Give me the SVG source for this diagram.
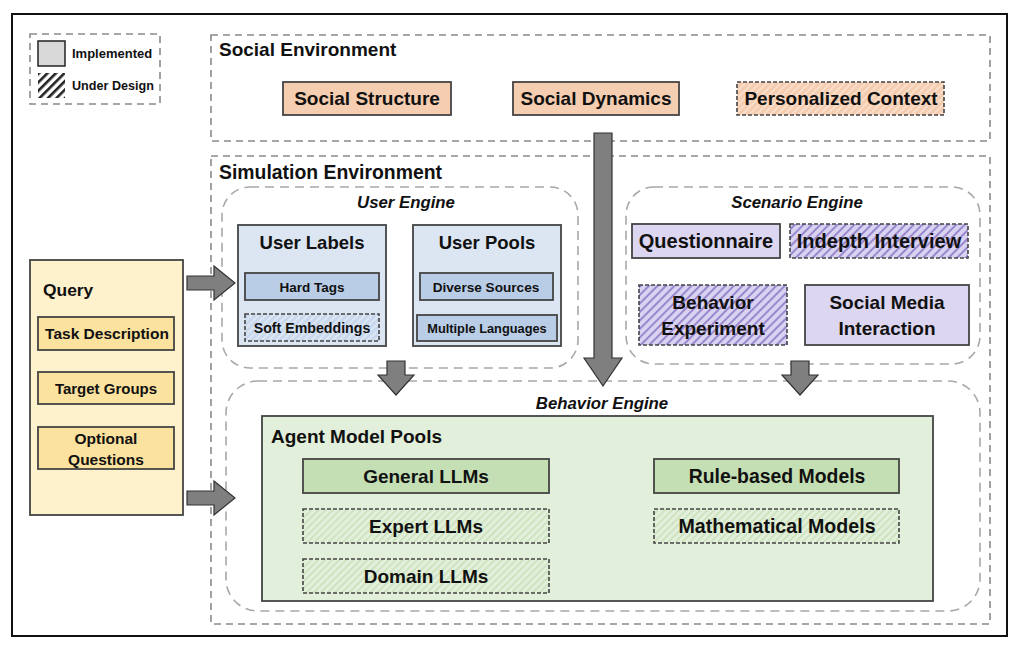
<svg xmlns="http://www.w3.org/2000/svg" width="1024" height="653" viewBox="0 0 1024 653">
<defs>
<pattern id="hBlack" patternUnits="userSpaceOnUse" width="6" height="6" patternTransform="rotate(45)"><rect width="6" height="6" fill="#fff"/><rect width="2.6" height="6" fill="#222"/></pattern>
<pattern id="hPeach" patternUnits="userSpaceOnUse" width="5" height="5" patternTransform="rotate(45)"><rect width="5" height="5" fill="#f5cdb0"/><rect width="1.5" height="5" fill="#fbe3d2"/></pattern>
<pattern id="hBlue" patternUnits="userSpaceOnUse" width="5" height="5" patternTransform="rotate(45)"><rect width="5" height="5" fill="#c9d8ec"/><rect width="1.5" height="5" fill="#e2ebf6"/></pattern>
<pattern id="hPurple" patternUnits="userSpaceOnUse" width="6" height="6" patternTransform="rotate(45)"><rect width="6" height="6" fill="#d9d2f0"/><rect width="2" height="6" fill="#9a88cf"/></pattern>
<pattern id="hGreen" patternUnits="userSpaceOnUse" width="5" height="5" patternTransform="rotate(45)"><rect width="5" height="5" fill="#e2efda"/><rect width="1.5" height="5" fill="#c8e0b8"/></pattern>
</defs>
<style>
text{font-family:"Liberation Sans",Arial,sans-serif;font-weight:bold;fill:#111;}
.c{text-anchor:middle;}
.dash{fill:none;stroke:#8a8a8a;stroke-width:1.6;stroke-dasharray:7,5;}
.rdash{fill:none;stroke:#a8a8a8;stroke-width:1.6;stroke-dasharray:9,6;}
.box{stroke:#444;stroke-width:1.8;}
.dbox{stroke:#444;stroke-width:1.6;stroke-dasharray:4,2;}
.arrow{fill:#7f7f7f;stroke:#333;stroke-width:1.2;}
.t17{font-size:19px;}
.t18{font-size:19px;}
.it{font-style:italic;font-size:16.8px;}
.q{font-size:15.5px;}
</style>
<rect x="0" y="0" width="1024" height="653" fill="#fff"/>
<rect x="12" y="14" width="995" height="622" fill="none" stroke="#111" stroke-width="2"/>

<g id="legend">
<rect x="30" y="34" width="130" height="70" class="dash"/>
<rect x="38" y="41" width="27" height="25" fill="#d9d9d9" stroke="#222" stroke-width="1.5"/>
<text x="72" y="58" style="font-size:13px">Implemented</text>
<rect x="38" y="73" width="27" height="25" fill="url(#hBlack)"/>
<text x="72" y="90" style="font-size:12.6px">Under Design</text>
</g>

<g id="social-environment">
<rect x="211" y="35" width="779" height="106" class="dash"/>
<text x="219" y="56" class="t18">Social Environment</text>
</g>
<g id="social-structure"><rect x="283" y="82" width="168" height="33" fill="#f5cdb0" class="box"/><text x="367" y="105" class="c t17">Social Structure</text></g>
<g id="social-dynamics"><rect x="513" y="82" width="166" height="33" fill="#f5cdb0" class="box"/><text x="596" y="105" class="c t17">Social Dynamics</text></g>
<g id="personalized-context"><rect x="737" y="82" width="207" height="33" fill="url(#hPeach)" class="dbox"/><text x="841" y="105" class="c t17">Personalized Context</text></g>

<g id="simulation-environment">
<rect x="211" y="156" width="779" height="468" class="dash"/>
<text x="219" y="179" style="font-size:19.4px">Simulation Environment</text>
</g>

<g id="user-engine">
<rect x="222" y="187" width="356" height="181" rx="28" class="rdash"/>
<text x="406" y="208" class="c it">User Engine</text>
</g>
<g id="user-labels">
<rect x="238" y="225" width="148" height="121" fill="#dce6f2" class="box"/>
<text x="312" y="249" class="c" style="font-size:18.5px">User Labels</text>
<rect x="245" y="273" width="134" height="27" fill="#b9cde6" class="box"/>
<text x="312" y="292" class="c" style="font-size:13.5px">Hard Tags</text>
<rect x="245" y="314" width="134" height="27" fill="url(#hBlue)" class="dbox"/>
<text x="312" y="333" class="c" style="font-size:14.2px">Soft Embeddings</text>
</g>
<g id="user-pools">
<rect x="413" y="225" width="148" height="121" fill="#dce6f2" class="box"/>
<text x="487" y="249" class="c" style="font-size:18.5px">User Pools</text>
<rect x="420" y="273" width="133" height="27" fill="#b9cde6" class="box"/>
<text x="486" y="292" class="c" style="font-size:13.6px">Diverse Sources</text>
<rect x="417" y="315" width="140" height="26" fill="#b9cde6" class="box"/>
<text x="487" y="333" class="c" style="font-size:12.8px">Multiple Languages</text>
</g>

<g id="scenario-engine">
<rect x="626" y="187" width="354" height="177" rx="28" class="rdash"/>
<text x="797" y="208" class="c it">Scenario Engine</text>
</g>
<g id="questionnaire"><rect x="632" y="224" width="148" height="34" fill="#dcd6f0" class="box"/><text x="706" y="248" class="c" style="font-size:20px">Questionnaire</text></g>
<g id="indepth-interview"><rect x="790" y="224" width="178" height="34" fill="url(#hPurple)" class="dbox"/><text x="879" y="248" class="c" style="font-size:20px">Indepth Interview</text></g>
<g id="behavior-experiment"><rect x="639" y="285" width="148" height="60" fill="url(#hPurple)" class="dbox"/><text x="713" y="309" class="c t17">Behavior</text><text x="713" y="335" class="c t17">Experiment</text></g>
<g id="social-media-interaction"><rect x="805" y="285" width="164" height="60" fill="#dcd6f0" class="box"/><text x="887" y="309" class="c t17">Social Media</text><text x="887" y="335" class="c t17">Interaction</text></g>

<g id="behavior-engine">
<rect x="226" y="381" width="754" height="230" rx="32" class="rdash"/>
<text x="602" y="409" class="c it">Behavior Engine</text>
</g>
<g id="agent-model-pools">
<rect x="262" y="416" width="671" height="185" fill="#e2efda" class="box"/>
<text x="271" y="443" class="t18">Agent Model Pools</text>
</g>
<g id="general-llms"><rect x="303" y="459" width="246" height="34" fill="#c5dfb4" class="box"/><text x="426" y="483" class="c t17">General LLMs</text></g>
<g id="expert-llms"><rect x="303" y="509" width="246" height="34" fill="url(#hGreen)" class="dbox"/><text x="426" y="533" class="c t17">Expert LLMs</text></g>
<g id="domain-llms"><rect x="303" y="559" width="246" height="34" fill="url(#hGreen)" class="dbox"/><text x="426" y="583" class="c t17">Domain LLMs</text></g>
<g id="rule-based-models"><rect x="654" y="459" width="245" height="34" fill="#c5dfb4" class="box"/><text x="777" y="483" class="c" style="font-size:19.4px">Rule-based Models</text></g>
<g id="mathematical-models"><rect x="654" y="509" width="245" height="34" fill="url(#hGreen)" class="dbox"/><text x="777" y="533" class="c" style="font-size:19.6px">Mathematical Models</text></g>

<g id="query">
<rect x="30" y="260" width="153" height="255" fill="#fef2cc" class="box"/>
<text x="43" y="296" style="font-size:17.4px">Query</text>
<rect x="38" y="317" width="136" height="33" fill="#fbe29e" class="box"/>
<text x="107" y="339" class="c q">Task Description</text>
<rect x="38" y="372" width="136" height="32" fill="#fbe29e" class="box"/>
<text x="106" y="394" class="c q" style="font-size:15px">Target Groups</text>
<rect x="38" y="427" width="136" height="42" fill="#fbe29e" class="box"/>
<text x="106" y="444" class="c q">Optional</text>
<text x="106" y="465" class="c q">Questions</text>
</g>

<g id="connectors">
<polygon class="arrow" points="187,276 214,276 214,266 235,283 214,300 214,290 187,290"/>
<polygon class="arrow" points="187,491 214,491 214,481 235,498 214,515 214,505 187,505"/>
<polygon class="arrow" points="594,133 612,133 612,358 622,358 603,386 584,358 594,358"/>
<polygon class="arrow" points="387,361 405,361 405,375 414,375 396,395 378,375 387,375"/>
<polygon class="arrow" points="791,361 809,361 809,375 818,375 800,395 782,375 791,375"/>
</g>
</svg>
